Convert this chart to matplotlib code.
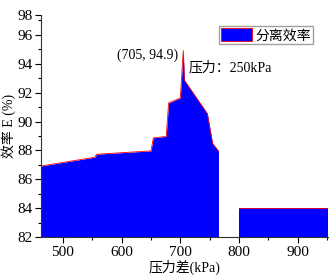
import numpy as np
import matplotlib
matplotlib.use("Agg")
import matplotlib.pyplot as plt
from matplotlib.ticker import MultipleLocator
from matplotlib.patches import Patch

plt.rcParams['font.family'] = ['Liberation Serif', 'Noto Sans CJK SC']
plt.rcParams['font.size'] = 10

# main segment of the separation-efficiency curve
x1 = [462, 555, 557, 650, 654, 676, 680, 700, 705, 707, 746, 755, 765]
y1 = [86.92, 87.54, 87.74, 87.97, 88.87, 88.97, 91.28, 91.63, 94.9, 92.85, 90.55, 88.48, 87.97]
# second segment after the gap
x2 = [800, 951]
y2 = [84.0, 84.0]

peak_x, peak_y = 705, 94.9
yticks = [82, 84, 86, 88, 90, 92, 94, 96]
xticks = [500, 600, 700, 800, 900]

fig = plt.figure(figsize=(3.3, 2.75), dpi=100)
ax = fig.add_axes([0.123, 0.137, 0.870, 0.808])

ax.fill_between(x1, y1, 82, color="#0000ff", linewidth=0)
ax.plot(x1, y1, color="red", lw=0.6)
ax.fill_between(x2, y2, 82, color="#0000ff", linewidth=0)
ax.plot(x2, y2, color="red", lw=0.6)

ax.set_xlim(462, 951)
ax.set_ylim(82, 97.35)
ax.set_yticks(yticks + [97.35])
ax.set_yticklabels([str(v) for v in yticks] + ["98"])
ax.set_xticks(xticks)
ax.yaxis.set_minor_locator(MultipleLocator(1))
ax.xaxis.set_minor_locator(MultipleLocator(50))
ax.tick_params(which="major", direction="out", length=4, width=0.8, pad=2, labelsize=11)
ax.tick_params(which="minor", direction="out", length=2.5, width=0.8)

for s in ["top", "right"]:
    ax.spines[s].set_visible(False)
for s in ["left", "bottom"]:
    ax.spines[s].set_color("#333333")
    ax.spines[s].set_zorder(3)

ax.set_xlabel("压力差(kPa)", labelpad=1)
ax.set_ylabel("效率 E (%)", labelpad=1)

ax.text(peak_x - 9, peak_y - 0.3, f"({peak_x}, {peak_y})", ha="right", va="center")
ax.text(714, 93.7, "压力：250kPa", ha="left", va="center")

ax.legend(handles=[Patch(facecolor="#0000ff", edgecolor="red", linewidth=0.6, label="分离效率")],
          loc="upper right", bbox_to_anchor=(0.95, 0.95), frameon=True, fancybox=False,
          edgecolor="#888888", handlelength=2.2, handleheight=1.0, borderpad=0.15,
          handletextpad=0.3, borderaxespad=0)

fig.savefig("out.png", dpi=100)
